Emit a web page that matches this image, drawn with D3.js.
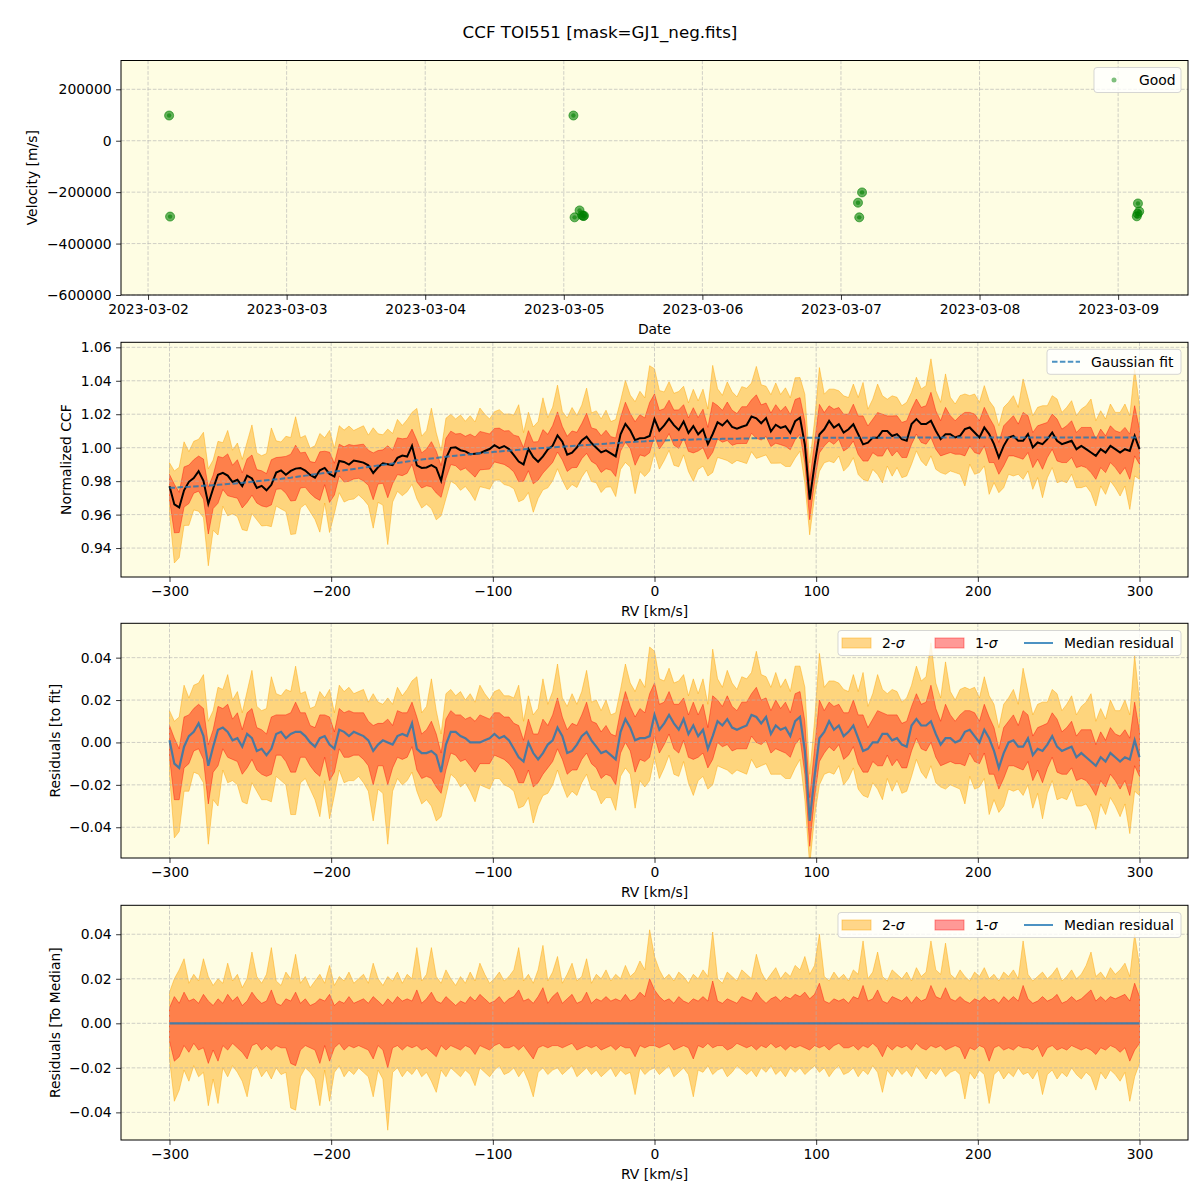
<!DOCTYPE html>
<html>
<head>
<meta charset="utf-8">
<script src="https://cdn.jsdelivr.net/npm/d3@7"></script>
<style>
  body { margin: 0; background: #fff; }
  text { font-family: "DejaVu Sans", sans-serif; fill: #000; }
</style>
</head>
<body>
<div id="chart"></div>
<script>
// ---- data ----
// RV grid, km/s
const rv = d3.range(-300, 301, 3);

// Gaussian fit, (CCF - 1) * 1000
const fitCcf = [
  -24.0, -23.9, -23.7, -23.5, -23.4, -23.2, -23.0, -22.8, -22.6, -22.4,
  -22.2, -22.0, -21.7, -21.5, -21.2, -21.0, -20.7, -20.4, -20.1, -19.8,
  -19.5, -19.2, -18.9, -18.6, -18.2, -17.9, -17.5, -17.1, -16.7, -16.3,
  -15.9, -15.5, -15.1, -14.7, -14.3, -13.9, -13.5, -13.1, -12.7, -12.3,
  -11.9, -11.5, -11.1, -10.7, -10.3, -9.9, -9.5, -9.1, -8.7, -8.3,
  -7.9, -7.5, -7.1, -6.8, -6.4, -6.1, -5.7, -5.4, -5.1, -4.8,
  -4.5, -4.2, -3.9, -3.6, -3.3, -3.0, -2.8, -2.5, -2.3, -2.0,
  -1.8, -1.5, -1.3, -1.0, -0.8, -0.6, -0.4, -0.2, 0.0, 0.2,
  0.4, 0.6, 0.8, 1.0, 1.2, 1.4, 1.6, 1.8, 2.0, 2.2,
  2.4, 2.6, 2.8, 3.0, 3.2, 3.4, 3.5, 3.7, 3.8, 4.0,
  4.1, 4.2, 4.3, 4.4, 4.5, 4.6, 4.7, 4.8, 4.9, 5.0,
  5.0, 5.1, 5.2, 5.2, 5.3, 5.3, 5.4, 5.4, 5.5, 5.5,
  5.6, 5.6, 5.6, 5.7, 5.7, 5.7, 5.8, 5.8, 5.8, 5.8,
  5.9, 5.9, 5.9, 5.9, 5.9, 6.0, 6.0, 6.0, 6.0, 6.0,
  6.0, 6.0, 6.0, 6.0, 6.0, 6.0, 6.0, 6.0, 6.0, 6.0,
  6.1, 6.1, 6.1, 6.1, 6.1, 6.1, 6.1, 6.1, 6.1, 6.1,
  6.1, 6.1, 6.1, 6.1, 6.1, 6.1, 6.1, 6.1, 6.1, 6.1,
  6.1, 6.1, 6.1, 6.1, 6.1, 6.1, 6.1, 6.1, 6.1, 6.1,
  6.1, 6.1, 6.1, 6.1, 6.1, 6.1, 6.1, 6.1, 6.1, 6.1,
  6.1, 6.1, 6.1, 6.1, 6.1, 6.1, 6.1, 6.1, 6.1, 6.1,
  6.1
];

// median residual to fit, * 1000
const medRes = [
  1, -10, -12, -2, 3, 5, 9, 3, -11, -2,
  6, 7, 5, 1, 2, -2, 4, 2, -4, -3,
  -6, -3, 4, 5, 2, 4, 5, 5, 3, 0,
  -2, 2, 3, -1, -3, 6, 5, 3, 5, 4,
  3, 1, -4, -1, 1, 0, -1, 3, 4, 3,
  9, -3, -5, -5, -4, -6, -14, -1, 5, 5,
  3, 2, 0, 0, 0, 1, 2, 4, 2, 3,
  1, -3, -7, -9, 0, -5, -8, -5, -1, 1,
  7, 3, -5, -4, -1, 3, 5, 1, -2, -5,
  -4, -6, -8, 5, 11, 7, 1, 2, 2, 3,
  13, 6, 9, 13, 9, 6, 11, 4, 8, 3,
  6, -3, 3, 10, 8, 11, 7, 6, 7, 8,
  13, 12, 9, 12, 4, 8, 6, 7, 3, 10,
  12, -4, -37, -16, 2, 5, 10, 6, 8, 3,
  5, 8, 2, -4, -3, 0, 0, 4, 4, 1,
  2, -1, -2, 8, 11, 8, 8, 10, 4, -1,
  2, 2, 0, 1, 5, 6, 3, 0, 6, 2,
  -4, -12, -5, 0, 1, -2, -2, 2, -6, -3,
  -4, -1, 3, -2, -4, -3, -2, -7, -5, -7,
  -9, -11, -7, -9, -5, -7, -9, -7, -8, 1,
  -7
];

// percentile offsets from the median, * 1000
const sig1Up = [
  7, 12, 9, 14, 10, 11, 9, 13, 10, 8,
  11, 9, 13, 10, 12, 8, 10, 14, 11, 9,
  10, 15, 9, 8, 11, 10, 14, 9, 11, 8,
  9, 11, 10, 13, 8, 10, 9, 12, 9, 10,
  11, 9, 12, 10, 8, 11, 9, 12, 10, 11,
  10, 15, 9, 11, 14, 10, 9, 12, 10, 8,
  10, 9, 12, 10, 13, 11, 9, 10, 12, 9,
  11, 12, 15, 10, 11, 9, 12, 16, 9, 12,
  14, 9, 11, 13, 9, 10, 14, 9, 11, 10,
  12, 10, 11, 10, 13, 10, 11, 14, 12, 20,
  15, 12, 10, 11, 9, 12, 10, 9, 11, 10,
  12, 10, 19, 10, 9, 11, 10, 9, 12, 11,
  10, 14, 11, 9, 11, 12, 10, 12, 11, 13,
  12, 14, 11, 13, 18, 10, 9, 11, 10, 11,
  9, 12, 11, 17, 10, 11, 15, 10, 9, 12,
  11, 10, 12, 9, 12, 10, 11, 17, 12, 11,
  16, 11, 10, 12, 10, 9, 11, 10, 12, 10,
  11, 9, 12, 10, 12, 10, 17, 11, 9, 10,
  12, 10, 11, 13, 9, 10, 12, 10, 11, 13,
  15, 10, 12, 10, 12, 11, 12, 13, 10, 18,
  12
];
const sig1Dn = [
  8, 17, 15, 10, 13, 9, 12, 11, 18, 12,
  17, 10, 12, 9, 11, 13, 16, 10, 9, 12,
  10, 12, 10, 11, 11, 18, 19, 12, 10, 11,
  12, 18, 10, 17, 11, 9, 12, 10, 11, 10,
  11, 12, 16, 10, 12, 20, 11, 10, 12, 10,
  11, 10, 12, 11, 13, 15, 10, 12, 10, 11,
  12, 10, 11, 14, 10, 11, 12, 10, 9, 11,
  11, 10, 12, 10, 13, 16, 11, 10, 11, 10,
  10, 11, 10, 9, 12, 11, 10, 11, 10, 12,
  11, 10, 12, 10, 11, 11, 15, 10, 11, 10,
  10, 11, 10, 9, 12, 11, 10, 11, 16, 10,
  11, 9, 11, 10, 10, 12, 11, 9, 10, 11,
  10, 12, 10, 11, 9, 11, 10, 12, 10, 11,
  10, 11, 12, 10, 11, 10, 12, 10, 9, 11,
  11, 10, 12, 10, 11, 9, 11, 15, 10, 12,
  10, 11, 10, 12, 9, 11, 12, 10, 11, 10,
  12, 11, 10, 11, 16, 11, 12, 10, 11, 17,
  11, 10, 12, 11, 12, 10, 11, 11, 12, 10,
  15, 11, 10, 12, 11, 12, 10, 11, 12, 11,
  12, 14, 11, 12, 10, 11, 13, 11, 17, 12,
  9
];
const sig2Up = [
  14, 20, 24, 29, 18, 22, 19, 29, 21, 17,
  20, 18, 27, 19, 22, 16, 20, 32, 21, 18,
  22, 34, 19, 17, 23, 20, 31, 18, 21, 16,
  19, 22, 18, 26, 17, 21, 19, 23, 18, 20,
  22, 18, 27, 20, 17, 21, 19, 23, 18, 22,
  20, 34, 19, 22, 34, 21, 18, 24, 20, 17,
  21, 18, 23, 19, 27, 22, 18, 20, 23, 19,
  21, 24, 34, 19, 22, 18, 24, 35, 19, 23,
  30, 18, 22, 27, 19, 21, 29, 18, 22, 20,
  24, 19, 22, 20, 26, 21, 23, 28, 24, 42,
  30, 24, 20, 22, 19, 23, 21, 18, 22, 20,
  24, 21, 41, 20, 18, 23, 21, 19, 24, 22,
  20, 31, 23, 19, 22, 25, 20, 23, 21, 26,
  24, 30, 22, 26, 40, 21, 19, 23, 20, 22,
  19, 24, 22, 37, 20, 23, 32, 21, 19, 24,
  22, 20, 23, 19, 25, 21, 23, 37, 24, 22,
  36, 22, 20, 24, 21, 19, 23, 21, 25, 20,
  22, 19, 23, 21, 24, 20, 37, 22, 19, 21,
  23, 20, 22, 25, 19, 21, 24, 20, 22, 26,
  32, 21, 23, 20, 25, 22, 24, 27, 21, 40,
  26
];
const sig2Dn = [
  16, 35, 30, 21, 26, 19, 24, 22, 37, 25,
  36, 20, 24, 19, 22, 26, 33, 21, 19, 24,
  21, 25, 20, 23, 22, 38, 39, 24, 20, 22,
  25, 37, 21, 35, 22, 19, 24, 21, 23, 20,
  22, 24, 33, 21, 25, 48, 22, 20, 24, 21,
  23, 20, 24, 22, 26, 31, 21, 24, 20, 22,
  24, 21, 23, 28, 20, 22, 24, 21, 19, 23,
  22, 20, 24, 21, 26, 33, 22, 20, 23, 21,
  20, 23, 21, 19, 24, 22, 20, 23, 21, 24,
  22, 20, 24, 21, 23, 22, 32, 20, 23, 21,
  20, 23, 21, 19, 24, 22, 20, 23, 33, 21,
  22, 19, 23, 21, 20, 24, 22, 19, 21, 23,
  21, 24, 20, 22, 19, 23, 21, 24, 20, 22,
  20, 23, 21, 19, 22, 20, 24, 21, 19, 23,
  22, 20, 24, 21, 23, 19, 22, 31, 21, 24,
  20, 23, 21, 24, 19, 22, 25, 21, 23, 20,
  24, 22, 21, 23, 34, 22, 25, 21, 23, 36,
  23, 21, 25, 22, 24, 20, 23, 22, 25, 21,
  32, 23, 21, 25, 22, 24, 20, 23, 25, 22,
  24, 30, 22, 25, 21, 23, 26, 22, 35, 24,
  18
];

// observations (top panel)
const obsTime = [
  "2023-03-02T03:39Z", "2023-03-02T03:49Z",
  "2023-03-05T01:40Z", "2023-03-05T01:52Z", "2023-03-05T02:44Z",
  "2023-03-05T03:10Z", "2023-03-05T03:22Z", "2023-03-05T03:30Z",
  "2023-03-07T02:57Z", "2023-03-07T03:10Z", "2023-03-07T03:39Z",
  "2023-03-09T03:14Z", "2023-03-09T03:22Z", "2023-03-09T03:26Z", "2023-03-09T03:39Z"
];
const obsVel = [
  98000, -295000,
  98000, -298000, -271000,
  -290000, -293000, -292000,
  -241000, -298000, -201000,
  -294000, -284000, -244000, -275000
];

const velTicks = [-600000, -400000, -200000, 0, 200000];
const rvTicks = [-300, -200, -100, 0, 100, 200, 300];
const ccfTicks = [0.94, 0.96, 0.98, 1.00, 1.02, 1.04, 1.06];
const resTicks = [-0.04, -0.02, 0.00, 0.02, 0.04];

// ---- layout ----
const L = 121, R = 1188;
const bgColor = "#fefde3";
const fs = 13.9;
const c0 = "#1f77b4";

const svg = d3.select("#chart").append("svg")
    .attr("width", 1200)
    .attr("height", 1200);

svg.append("text")
    .attr("x", 600).attr("y", 38)
    .attr("text-anchor", "middle")
    .style("font-size", "16.7px")
    .text("CCF TOI551 [mask=GJ1_neg.fits]");

let clipId = 0;
function panel(top, bottom, x, y, xTicks, yTicks, xFmt, yFmt, xLabel, yLabel, yLabelX) {
    const g = svg.append("g");
    g.append("rect")
        .attr("x", L).attr("y", top)
        .attr("width", R - L).attr("height", bottom - top)
        .attr("fill", bgColor);

    const id = "clip" + (clipId++);
    g.append("clipPath").attr("id", id)
      .append("rect")
        .attr("x", L).attr("y", top)
        .attr("width", R - L).attr("height", bottom - top);

    const data = g.append("g").attr("clip-path", `url(#${id})`);
    const grid = g.append("g");
    const over = g.append("g").attr("clip-path", `url(#${id})`);

    // grid
    grid.selectAll(".gx").data(xTicks).enter().append("line")
        .attr("x1", d => x(d)).attr("x2", d => x(d))
        .attr("y1", top).attr("y2", bottom)
        .attr("stroke", "#b0b0b0").attr("stroke-opacity", 0.6)
        .attr("stroke-dasharray", "3.7,1.6");
    grid.selectAll(".gy").data(yTicks).enter().append("line")
        .attr("x1", L).attr("x2", R)
        .attr("y1", d => y(d)).attr("y2", d => y(d))
        .attr("stroke", "#b0b0b0").attr("stroke-opacity", 0.6)
        .attr("stroke-dasharray", "3.7,1.6");

    // axes
    const ax = g.append("g")
        .attr("transform", `translate(0,${bottom})`)
        .call(d3.axisBottom(x).tickValues(xTicks).tickFormat(xFmt)
            .tickSize(4.9).tickSizeOuter(0).tickPadding(4.5));
    const ay = g.append("g")
        .attr("transform", `translate(${L},0)`)
        .call(d3.axisLeft(y).tickValues(yTicks).tickFormat(yFmt)
            .tickSize(4.9).tickSizeOuter(0).tickPadding(4.5));
    [ax, ay].forEach(a => {
        a.select(".domain").remove();
        a.selectAll("text").style("font-size", fs + "px")
            .attr("font-family", "DejaVu Sans").attr("fill", "#000");
        a.selectAll("line").attr("stroke", "#000").attr("stroke-width", 0.8);
    });

    g.append("rect")
        .attr("x", L).attr("y", top)
        .attr("width", R - L).attr("height", bottom - top)
        .attr("fill", "none").attr("stroke", "#000").attr("stroke-width", 1);

    g.append("text")
        .attr("x", (L + R) / 2).attr("y", bottom + 39)
        .attr("text-anchor", "middle")
        .style("font-size", fs + "px")
        .text(xLabel);
    g.append("text")
        .attr("transform", `translate(${yLabelX},${(top + bottom) / 2}) rotate(-90)`)
        .attr("text-anchor", "middle")
        .attr("dy", "0.35em")
        .style("font-size", fs + "px")
        .text(yLabel);

    return { data, over, g };
}

function legendBox(g, x0, y0, w) {
    g.append("rect")
        .attr("x", x0).attr("y", y0).attr("width", w).attr("height", 25)
        .attr("rx", 3)
        .attr("fill", "#fff").attr("fill-opacity", 0.8)
        .attr("stroke", "#ccc").attr("stroke-opacity", 0.8);
}

function sigmaLegend(g, y0) {
    legendBox(g, 838, y0, 343);
    const cy = y0 + 12.5;
    g.append("rect").attr("x", 842).attr("y", cy - 5).attr("width", 29).attr("height", 10)
        .attr("fill", "orange").attr("fill-opacity", 0.45)
        .attr("stroke", "orange").attr("stroke-opacity", 0.45);
    const t2 = g.append("text").attr("x", 882).attr("y", cy + 5).style("font-size", fs + "px");
    t2.append("tspan").text("2-");
    t2.append("tspan").attr("font-style", "italic").text("σ");
    g.append("rect").attr("x", 935).attr("y", cy - 5).attr("width", 29).attr("height", 10)
        .attr("fill", "red").attr("fill-opacity", 0.4)
        .attr("stroke", "red").attr("stroke-opacity", 0.4);
    const t1 = g.append("text").attr("x", 975).attr("y", cy + 5).style("font-size", fs + "px");
    t1.append("tspan").text("1-");
    t1.append("tspan").attr("font-style", "italic").text("σ");
    g.append("line").attr("x1", 1024).attr("x2", 1053).attr("y1", cy).attr("y2", cy)
        .attr("stroke", c0).attr("stroke-opacity", 0.8).attr("stroke-width", 2);
    g.append("text").attr("x", 1064).attr("y", cy + 5).style("font-size", fs + "px")
        .text("Median residual");
}

function bands(layer, x, y, center) {
    const lo2 = rv.map((d, i) => (center[i] - sig2Dn[i]) / 1000);
    const hi2 = rv.map((d, i) => (center[i] + sig2Up[i]) / 1000);
    const lo1 = rv.map((d, i) => (center[i] - sig1Dn[i]) / 1000);
    const hi1 = rv.map((d, i) => (center[i] + sig1Up[i]) / 1000);
    const area = (lo, hi) => d3.area()
        .x((d, i) => x(d))
        .y0((d, i) => y(lo[i]))
        .y1((d, i) => y(hi[i]));
    layer.append("path").datum(rv).attr("d", area(lo2, hi2))
        .attr("fill", "orange").attr("fill-opacity", 0.45)
        .attr("stroke", "orange").attr("stroke-opacity", 0.45).attr("stroke-width", 1);
    layer.append("path").datum(rv).attr("d", area(lo1, hi1))
        .attr("fill", "red").attr("fill-opacity", 0.4)
        .attr("stroke", "red").attr("stroke-opacity", 0.4).attr("stroke-width", 1);
}

const fmtRes = d3.format(".2f");

// ---- panel 1: velocities ----
const t0 = new Date("2023-03-01T19:19Z"), t1 = new Date("2023-03-09T12:06Z");
const xTime = d3.scaleUtc().domain([t0, t1]).range([L, R]);
const yVel = d3.scaleLinear().domain([-600000, 312000]).range([295, 60.5]);
const dayTicks = d3.utcDay.range(new Date("2023-03-02T00:00Z"), new Date("2023-03-09T12:00Z"));
const p1 = panel(60.5, 295, xTime, yVel, dayTicks, velTicks,
    d3.utcFormat("%Y-%m-%d"), d3.format("d"), "Date", "Velocity [m/s]", 32);

const pts = obsTime.map((t, i) => ({ t: new Date(t), v: obsVel[i] }));
p1.over.selectAll(".pt").data(pts).enter().append("circle")
    .attr("cx", d => xTime(d.t)).attr("cy", d => yVel(d.v)).attr("r", 4.5)
    .attr("fill", "green").attr("fill-opacity", 0.6)
    .attr("stroke", "green").attr("stroke-opacity", 0.6);
p1.over.selectAll(".pc").data(pts).enter().append("circle")
    .attr("cx", d => xTime(d.t)).attr("cy", d => yVel(d.v)).attr("r", 2.2)
    .attr("fill", "green").attr("fill-opacity", 0.6);
legendBox(p1.g, 1094, 67.5, 87);
p1.g.append("circle").attr("cx", 1114).attr("cy", 80).attr("r", 2.5)
    .attr("fill", "green").attr("fill-opacity", 0.5);
p1.g.append("text").attr("x", 1139).attr("y", 85).style("font-size", fs + "px").text("Good");

// ---- panel 2: normalized CCF ----
const xRv2 = d3.scaleLinear().domain([-330, 330]).range([L, R]);
const yCcf = d3.scaleLinear().domain([0.9227, 1.063]).range([577, 342.3]);
const p2 = panel(342.3, 577, xRv2, yCcf, rvTicks, ccfTicks,
    d => d3.format("d")(d), fmtRes, "RV [km/s]", "Normalized CCF", 66);
const ccfMed = rv.map((d, i) => fitCcf[i] + medRes[i]);
// shift to CCF units: bands() divides by 1000, add 1000 for the "1 +" offset
bands(p2.data, xRv2, yCcf, ccfMed.map(v => v + 1000));
p2.over.append("path").datum(rv)
    .attr("d", d3.line().x(d => xRv2(d)).y((d, i) => yCcf(1 + ccfMed[i] / 1000)))
    .attr("fill", "none").attr("stroke", "#000").attr("stroke-width", 2);
p2.over.append("path").datum(rv)
    .attr("d", d3.line().x(d => xRv2(d)).y((d, i) => yCcf(1 + fitCcf[i] / 1000)))
    .attr("fill", "none").attr("stroke", c0).attr("stroke-opacity", 0.8)
    .attr("stroke-width", 2).attr("stroke-dasharray", "5.5,2.4");
legendBox(p2.g, 1047, 349.3, 134);
p2.g.append("line").attr("x1", 1052).attr("x2", 1080).attr("y1", 361.8).attr("y2", 361.8)
    .attr("stroke", c0).attr("stroke-opacity", 0.8).attr("stroke-width", 2)
    .attr("stroke-dasharray", "5.5,2.4");
p2.g.append("text").attr("x", 1091).attr("y", 366.8).style("font-size", fs + "px").text("Gaussian fit");

// ---- panel 3: residuals to fit ----
const yRes3 = d3.scaleLinear().domain([-0.0545, 0.0562]).range([858, 623.3]);
const p3 = panel(623.3, 858, xRv2, yRes3, rvTicks, resTicks,
    d => d3.format("d")(d), fmtRes, "RV [km/s]", "Residuals [to fit]", 55);
bands(p3.data, xRv2, yRes3, medRes);
p3.over.append("path").datum(rv)
    .attr("d", d3.line().x(d => xRv2(d)).y((d, i) => yRes3(medRes[i] / 1000)))
    .attr("fill", "none").attr("stroke", c0).attr("stroke-opacity", 0.8).attr("stroke-width", 2.2);
sigmaLegend(p3.g, 630.5);

// ---- panel 4: residuals to median ----
const yRes4 = d3.scaleLinear().domain([-0.0524, 0.053]).range([1140, 905.3]);
const p4 = panel(905.3, 1140, xRv2, yRes4, rvTicks, resTicks,
    d => d3.format("d")(d), fmtRes, "RV [km/s]", "Residuals [To Median]", 55);
const zeros = rv.map(() => 0);
bands(p4.data, xRv2, yRes4, zeros);
p4.over.append("path").datum(rv)
    .attr("d", d3.line().x(d => xRv2(d)).y((d, i) => yRes4(zeros[i])))
    .attr("fill", "none").attr("stroke", c0).attr("stroke-opacity", 0.8).attr("stroke-width", 2.2);
sigmaLegend(p4.g, 912.5);
</script>
</body>
</html>
